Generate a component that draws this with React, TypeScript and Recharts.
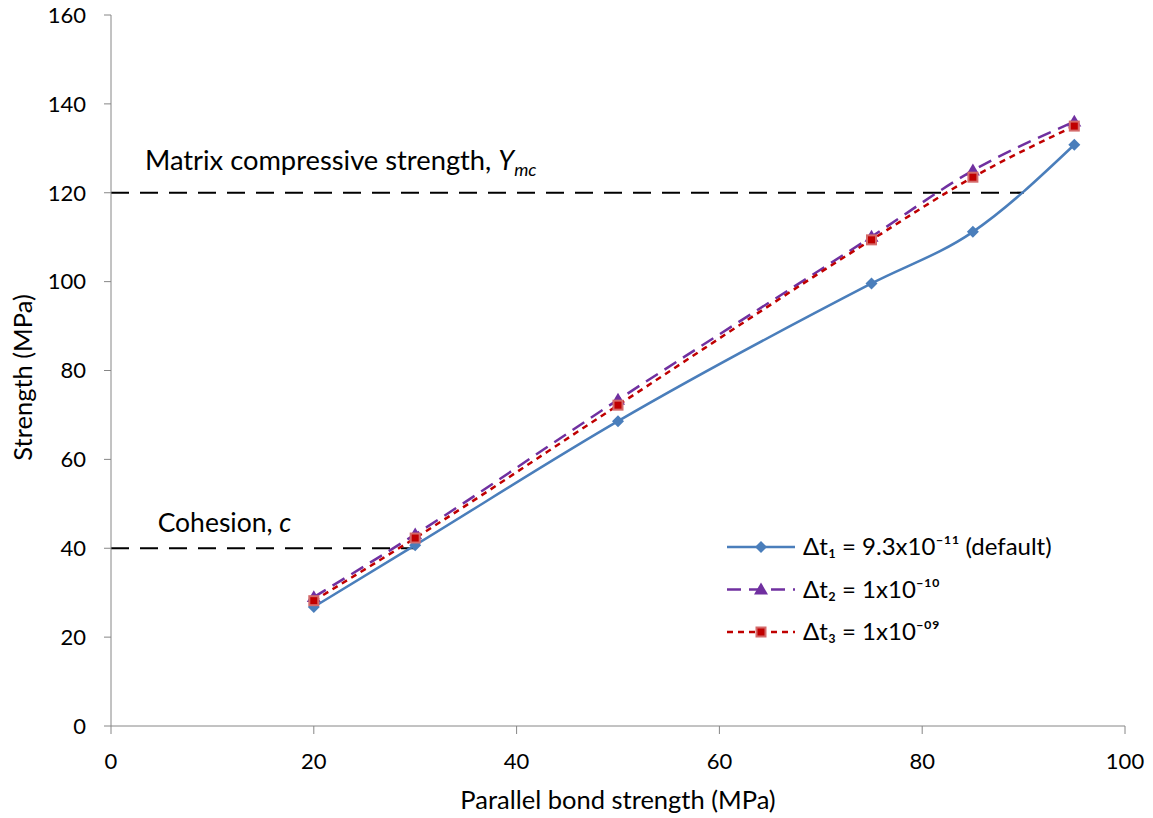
import { LineChart, Line, XAxis, YAxis, ReferenceLine, ReferenceDot, Legend, Label } from "recharts"

const bondStrength = [20, 30, 50, 75, 85, 95]
const dt1Strength = [26.8, 40.7, 68.6, 99.6, 111.2, 130.8]
const dt2Strength = [29.0, 43.1, 73.4, 110.1, 125.0, 136.0]
const dt3Strength = [28.2, 42.3, 72.2, 109.4, 123.5, 135.0]

const xTicks = [0, 20, 40, 60, 80, 100]
const yTicks = [0, 20, 40, 60, 80, 100, 120, 140, 160]

const matrixStrength = 120
const matrixLineEnd = 90
const cohesion = 40
const cohesionLineEnd = 30

const seriesNames = ["Δt₁ = 9.3x10⁻¹¹ (default)", "Δt₂ = 1x10⁻¹⁰", "Δt₃ = 1x10⁻⁰⁹"]

const data = bondStrength.map((x, i) => ({
    x,
    s1: dt1Strength[i],
    s2: dt2Strength[i],
    s3: dt3Strength[i],
}))

const FONT = "Lato, 'Open Sans', sans-serif"
const AXIS = "#868686"

const BLUE = "#4A7EBB"
const PURPLE = "#7030A0"
const RED = "#C00000"

function Diamond({ cx, cy }: any) {
    if (cx == null || cy == null) return null
    const r = 6
    return <path d={`M${cx},${cy - r}L${cx + r},${cy}L${cx},${cy + r}L${cx - r},${cy}Z`} fill={BLUE} />
}

function Triangle({ cx, cy }: any) {
    if (cx == null || cy == null) return null
    const r = 7
    return <path d={`M${cx},${cy - r}L${cx + r},${cy + r * 0.7}L${cx - r},${cy + r * 0.7}Z`} fill={PURPLE} />
}

function Square({ cx, cy }: any) {
    if (cx == null || cy == null) return null
    return (
        <g>
            <rect x={cx - 5.5} y={cy - 5.5} width={11} height={11} fill="#D46A6A" />
            <rect x={cx - 3.5} y={cy - 3.5} width={7} height={7} fill={RED} />
        </g>
    )
}

function LegendBox() {
    const rows = [
        { name: seriesNames[0], color: BLUE, dash: undefined, Mark: Diamond },
        { name: seriesNames[1], color: PURPLE, dash: "14 8", Mark: Triangle },
        { name: seriesNames[2], color: RED, dash: "6 5", Mark: Square },
    ]
    return (
        <svg width={360} height={130} style={{ fontFamily: FONT, display: "block" }}>
            {rows.map((r, i) => {
                const y = 17 + i * 42.5
                return (
                    <g key={i}>
                        <line x1={7} x2={75} y1={y} y2={y} stroke={r.color} strokeWidth={2.5} strokeDasharray={r.dash} />
                        <r.Mark cx={41} cy={y} />
                        <text x={83} y={y + 8} fontSize={24} fill="#000">{r.name}</text>
                    </g>
                )
            })}
        </svg>
    )
}

function MatrixLabel({ viewBox }: any) {
    const { x, y } = viewBox
    return (
        <text x={x} y={y} fontSize={27.3} fontFamily={FONT} fill="#000">
            Matrix compressive strength, <tspan fontStyle="italic">Y</tspan>
            <tspan fontStyle="italic" fontSize={18} dy={6}>mc</tspan>
        </text>
    )
}

function CohesionLabel({ viewBox }: any) {
    const { x, y } = viewBox
    return (
        <text x={x} y={y} fontSize={26.5} fontFamily={FONT} fill="#000">
            Cohesion, <tspan fontStyle="italic">c</tspan>
        </text>
    )
}

function XTitle({ viewBox }: any) {
    const { x, width } = viewBox
    return (
        <text x={x + width / 2} y={809} textAnchor="middle" fontSize={25.5} fontFamily={FONT} fill="#000">
            Parallel bond strength (MPa)
        </text>
    )
}

function YTitle({ viewBox }: any) {
    const { y, height } = viewBox
    const cx = 32
    const cy = y + height / 2 + 7
    return (
        <text x={cx} y={cy} transform={`rotate(-90, ${cx}, ${cy})`} textAnchor="middle" fontSize={25.5} fontFamily={FONT} fill="#000">
            Strength (MPa)
        </text>
    )
}

export default function App() {
    return (
        <div style={{ position: "absolute", top: 0, left: 0, width: 1153, height: 818, background: "#fff" }}>
            <LineChart
                width={1153}
                height={818}
                data={data}
                margin={{ top: 15, right: 28, left: 0, bottom: 0 }}
                style={{ fontFamily: FONT }}
            >
                <XAxis
                    dataKey="x"
                    type="number"
                    domain={[0, 100]}
                    ticks={xTicks}
                    height={92}
                    stroke={AXIS}
                    tickSize={8}
                    tick={{ fill: "#000", fontSize: 22 }}
                    tickMargin={19}
                >
                    <Label content={<XTitle />} />
                </XAxis>
                <YAxis
                    type="number"
                    domain={[0, 160]}
                    ticks={yTicks}
                    width={111}
                    stroke={AXIS}
                    tickSize={7}
                    tick={{ fill: "#000", fontSize: 22 }}
                    tickMargin={18}
                >
                    <Label content={<YTitle />} />
                </YAxis>
                <ReferenceLine
                    segment={[{ x: 0, y: matrixStrength }, { x: matrixLineEnd, y: matrixStrength }]}
                    stroke="#000"
                    strokeWidth={2.2}
                    strokeDasharray="18 11"
                />
                <ReferenceLine
                    segment={[{ x: 0, y: cohesion }, { x: cohesionLineEnd, y: cohesion }]}
                    stroke="#000"
                    strokeWidth={2.2}
                    strokeDasharray="18 11"
                />
                <ReferenceDot x={3.35} y={125.2} r={0} fill="none" stroke="none" label={<MatrixLabel />} />
                <ReferenceDot x={4.6} y={43.7} r={0} fill="none" stroke="none" label={<CohesionLabel />} />
                <Line
                    isAnimationActive={false}
                    type="monotone"
                    dataKey="s1"
                    name={seriesNames[0]}
                    stroke={BLUE}
                    strokeWidth={2.5}
                    dot={<Diamond />}
                    activeDot={false}
                />
                <Line
                    isAnimationActive={false}
                    type="monotone"
                    dataKey="s2"
                    name={seriesNames[1]}
                    stroke={PURPLE}
                    strokeWidth={2.5}
                    strokeDasharray="14 8"
                    dot={<Triangle />}
                    activeDot={false}
                />
                <Line
                    isAnimationActive={false}
                    type="monotone"
                    dataKey="s3"
                    name={seriesNames[2]}
                    stroke={RED}
                    strokeWidth={2.5}
                    strokeDasharray="6 5"
                    dot={<Square />}
                    activeDot={false}
                />
                <Legend
                    layout="horizontal"
                    verticalAlign="middle"
                    align="center"
                    content={<LegendBox />}
                    wrapperStyle={{ left: 720, top: 530, width: 360, height: 130 }}
                />
            </LineChart>
        </div>
    )
}
